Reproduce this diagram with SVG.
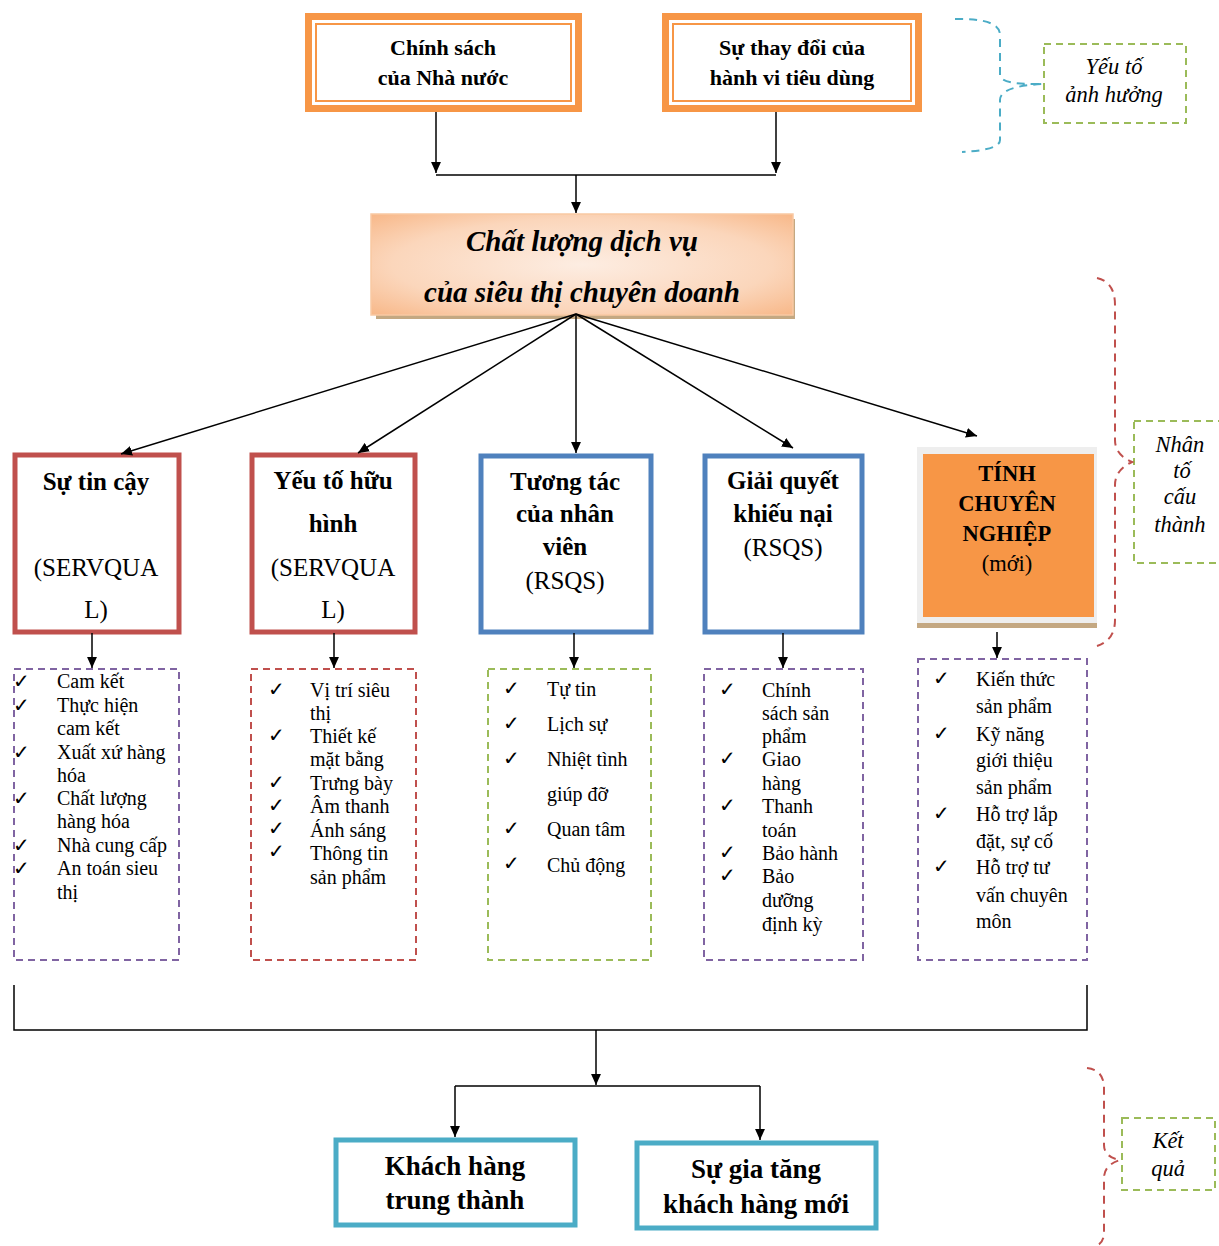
<svg xmlns="http://www.w3.org/2000/svg" width="1219" height="1246" viewBox="0 0 1219 1246">
<style>
.t{font-family:"Liberation Serif","Times New Roman",serif;fill:#000;text-anchor:middle}
.b{font-weight:bold}
.i{font-style:italic}
.l{font-family:"Liberation Serif","Times New Roman",serif;font-size:20px;fill:#000}
.ck{font-family:"DejaVu Sans",sans-serif;font-size:20px;font-weight:bold;fill:#000}
.ln{stroke:#000;stroke-width:1.5;fill:none}
.red{fill:#fff;stroke:#C0504D;stroke-width:5}
.blue{fill:#fff;stroke:#4F81BD;stroke-width:5}
.cyan{fill:#fff;stroke:#4BACC6;stroke-width:5}
.dp{fill:none;stroke:#8064A2;stroke-width:2;stroke-dasharray:7,5}
.dr{fill:none;stroke:#C0504D;stroke-width:2;stroke-dasharray:7,5}
.dg{fill:none;stroke:#9BBB59;stroke-width:2;stroke-dasharray:7,5}
</style>
<defs>
<marker id="ah" viewBox="0 0 10 10" refX="10" refY="5" markerWidth="11" markerHeight="11" markerUnits="userSpaceOnUse" orient="auto">
<path d="M0,0.5 L10,5 L0,9.5 z" fill="#000"/>
</marker>
<radialGradient id="pg" cx="0.5" cy="0.5" r="0.75">
<stop offset="0" stop-color="#FDEDE2"/>
<stop offset="0.6" stop-color="#FBD6BB"/>
<stop offset="1" stop-color="#F7B27F"/>
</radialGradient>
</defs>
<rect width="1219" height="1246" fill="#fff"/>

<g id="n-chinhsach">
<rect x="305" y="13" width="277" height="99" fill="#F79646"/>
<rect x="312" y="20" width="263" height="85" fill="#fff"/>
<rect x="316" y="24" width="255" height="77" fill="#fff" stroke="#F79646" stroke-width="2"/>
<text class="t b" x="443" y="55" font-size="22">Chính sách</text>
<text class="t b" x="443" y="85" font-size="22">của Nhà nước</text>
</g>
<g id="n-suthaydoi">
<rect x="662" y="13" width="260" height="99" fill="#F79646"/>
<rect x="669" y="20" width="246" height="85" fill="#fff"/>
<rect x="673" y="24" width="238" height="77" fill="#fff" stroke="#F79646" stroke-width="2"/>
<text class="t b" x="792" y="55" font-size="22">Sự thay đổi của</text>
<text class="t b" x="792" y="85" font-size="22">hành vi tiêu dùng</text>
</g>

<g id="n-chatluong">
<rect x="376" y="219" width="419" height="100" fill="#C4A882"/>
<rect x="371" y="214" width="422" height="101" fill="url(#pg)" stroke="#F9C9A3" stroke-width="1.5"/>
<text class="t b i" x="582" y="251" font-size="29">Chất lượng dịch vụ</text>
<text class="t b i" x="582" y="302" font-size="29">của siêu thị chuyên doanh</text>
</g>

<g id="n-sutincay">
<rect class="red" x="15" y="455" width="164" height="177"/>
<text class="t b" x="96" y="490" font-size="25">Sự tin cậy</text>
<text class="t" x="96" y="576" font-size="25">(SERVQUA</text>
<text class="t" x="96" y="618" font-size="25">L)</text>
</g>
<g id="n-yeutohuuhinh">
<rect class="red" x="252" y="455" width="163" height="177"/>
<text class="t b" x="333" y="489" font-size="25">Yếu tố hữu</text>
<text class="t b" x="333" y="532" font-size="25">hình</text>
<text class="t" x="333" y="576" font-size="25">(SERVQUA</text>
<text class="t" x="333" y="618" font-size="25">L)</text>
</g>
<g id="n-tuongtac">
<rect class="blue" x="481" y="456" width="170" height="176"/>
<text class="t b" x="565" y="490" font-size="25">Tương tác</text>
<text class="t b" x="565" y="522" font-size="25">của nhân</text>
<text class="t b" x="565" y="555" font-size="25">viên</text>
<text class="t" x="565" y="589" font-size="25">(RSQS)</text>
</g>
<g id="n-giaiquyet">
<rect class="blue" x="705" y="456" width="157" height="176"/>
<text class="t b" x="783" y="489" font-size="25">Giải quyết</text>
<text class="t b" x="783" y="522" font-size="25">khiếu nại</text>
<text class="t" x="783" y="556" font-size="25">(RSQS)</text>
</g>
<g id="n-tinhchuyennghiep">
<rect x="917" y="447" width="180" height="177" fill="#EEEEEE"/>
<rect x="917" y="623" width="180" height="5" fill="#C4A882"/>
<rect x="923" y="454" width="171" height="163" fill="#F79646"/>
<text class="t b" x="1007" y="481" font-size="22.5">TÍNH</text>
<text class="t b" x="1007" y="511" font-size="22.5">CHUYÊN</text>
<text class="t b" x="1007" y="541" font-size="22.5">NGHIỆP</text>
<text class="t" x="1007" y="571" font-size="22.5">(mới)</text>
</g>

<g id="n-list1">
<rect class="dp" x="14" y="669" width="165" height="291"/>
<text class="ck" x="13" y="688">✓</text><text class="l" x="57" y="688">Cam kết</text>
<text class="ck" x="13" y="712">✓</text><text class="l" x="57" y="712">Thực hiện</text>
<text class="l" x="57" y="735">cam kết</text>
<text class="ck" x="13" y="759">✓</text><text class="l" x="57" y="759">Xuất xứ hàng</text>
<text class="l" x="57" y="782">hóa</text>
<text class="ck" x="13" y="805">✓</text><text class="l" x="57" y="805">Chất lượng</text>
<text class="l" x="57" y="828">hàng hóa</text>
<text class="ck" x="13" y="852">✓</text><text class="l" x="57" y="852">Nhà cung cấp</text>
<text class="ck" x="13" y="875">✓</text><text class="l" x="57" y="875">An toán sieu</text>
<text class="l" x="57" y="899">thị</text>
</g>
<g id="n-list2">
<rect class="dr" x="251" y="669" width="165" height="291"/>
<text class="ck" x="268" y="696">✓</text><text class="l" x="310" y="697">Vị trí siêu</text>
<text class="l" x="310" y="720">thị</text>
<text class="ck" x="268" y="742">✓</text><text class="l" x="310" y="743">Thiết kế</text>
<text class="l" x="310" y="766">mặt bằng</text>
<text class="ck" x="268" y="789">✓</text><text class="l" x="310" y="790">Trưng bày</text>
<text class="ck" x="268" y="812">✓</text><text class="l" x="310" y="813">Âm thanh</text>
<text class="ck" x="268" y="835">✓</text><text class="l" x="310" y="837">Ánh sáng</text>
<text class="ck" x="268" y="858">✓</text><text class="l" x="310" y="860">Thông tin</text>
<text class="l" x="310" y="884">sản phẩm</text>
</g>
<g id="n-list3">
<rect class="dg" x="488" y="669" width="163" height="291"/>
<text class="ck" x="503" y="695">✓</text><text class="l" x="547" y="696">Tự tin</text>
<text class="ck" x="503" y="730">✓</text><text class="l" x="547" y="731">Lịch sự</text>
<text class="ck" x="503" y="765">✓</text><text class="l" x="547" y="766">Nhiệt tình</text>
<text class="l" x="547" y="801">giúp đỡ</text>
<text class="ck" x="503" y="835">✓</text><text class="l" x="547" y="836">Quan tâm</text>
<text class="ck" x="503" y="870">✓</text><text class="l" x="547" y="872">Chủ động</text>
</g>
<g id="n-list4">
<rect class="dp" x="704" y="669" width="159" height="291"/>
<text class="ck" x="719" y="696">✓</text><text class="l" x="762" y="697">Chính</text>
<text class="l" x="762" y="720">sách sản</text>
<text class="l" x="762" y="743">phẩm</text>
<text class="ck" x="719" y="765">✓</text><text class="l" x="762" y="766">Giao</text>
<text class="l" x="762" y="790">hàng</text>
<text class="ck" x="719" y="812">✓</text><text class="l" x="762" y="813">Thanh</text>
<text class="l" x="762" y="837">toán</text>
<text class="ck" x="719" y="859">✓</text><text class="l" x="762" y="860">Bảo hành</text>
<text class="ck" x="719" y="882">✓</text><text class="l" x="762" y="883">Bảo</text>
<text class="l" x="762" y="907">dưỡng</text>
<text class="l" x="762" y="931">định kỳ</text>
</g>
<g id="n-list5">
<rect class="dp" x="918" y="659" width="169" height="301"/>
<text class="ck" x="933" y="685">✓</text><text class="l" x="976" y="686">Kiến thức</text>
<text class="l" x="976" y="713">sản phẩm</text>
<text class="ck" x="933" y="740">✓</text><text class="l" x="976" y="741">Kỹ năng</text>
<text class="l" x="976" y="767">giới thiệu</text>
<text class="l" x="976" y="794">sản phẩm</text>
<text class="ck" x="933" y="820">✓</text><text class="l" x="976" y="821">Hỗ trợ lắp</text>
<text class="l" x="976" y="848">đặt, sự cố</text>
<text class="ck" x="933" y="873">✓</text><text class="l" x="976" y="874">Hỗ trợ tư</text>
<text class="l" x="976" y="902">vấn chuyên</text>
<text class="l" x="976" y="928">môn</text>
</g>

<g id="n-khachhang">
<rect class="cyan" x="336" y="1140" width="239" height="85"/>
<text class="t b" x="455" y="1175" font-size="27">Khách hàng</text>
<text class="t b" x="455" y="1209" font-size="27">trung thành</text>
</g>
<g id="n-sugiatang">
<rect class="cyan" x="637" y="1143" width="239" height="85"/>
<text class="t b" x="756" y="1178" font-size="27">Sự gia tăng</text>
<text class="t b" x="756" y="1213" font-size="27">khách hàng mới</text>
</g>

<g id="n-label-yeuto">
<rect x="1044" y="44" width="142" height="79" fill="none" stroke="#9BBB59" stroke-width="2" stroke-dasharray="7,5"/>
<text class="t i" x="1114" y="74" font-size="22.5">Yếu tố</text>
<text class="t i" x="1114" y="102" font-size="22.5">ảnh hưởng</text>
<path d="M955,19 Q1000,18 1000,35 L1000,75 Q1000,85 1043,84 Q1000,86 1000,100 L1000,140 Q1000,150 962,152" fill="none" stroke="#4BACC6" stroke-width="2" stroke-dasharray="8,6"/>
</g>
<g id="n-label-nhanto">
<rect x="1134" y="421" width="90" height="142" fill="none" stroke="#9BBB59" stroke-width="2" stroke-dasharray="7,5"/>
<text class="t i" x="1180" y="452" font-size="22.5">Nhân</text>
<text class="t i" x="1182" y="478" font-size="22.5">tố</text>
<text class="t i" x="1180" y="504" font-size="22.5">cấu</text>
<text class="t i" x="1180" y="532" font-size="22.5">thành</text>
<path d="M1097,278 Q1115,282 1115,305 L1115,440 Q1115,455 1132,462 Q1115,470 1115,485 L1115,620 Q1115,640 1097,646" fill="none" stroke="#C0504D" stroke-width="2" stroke-dasharray="8,6"/>
</g>
<g id="n-label-ketqua">
<rect x="1122" y="1118" width="93" height="72" fill="none" stroke="#9BBB59" stroke-width="2" stroke-dasharray="7,5"/>
<text class="t i" x="1168" y="1148" font-size="22.5">Kết</text>
<text class="t i" x="1168" y="1176" font-size="22.5">quả</text>
<path d="M1087,1068 Q1104,1070 1104,1088 L1104,1145 Q1104,1157 1120,1160 Q1104,1165 1104,1178 L1104,1232 Q1104,1244 1095,1246" fill="none" stroke="#C0504D" stroke-width="2" stroke-dasharray="8,6"/>
</g>

<g id="connectors">
<path class="ln" d="M436,112 L436,173" marker-end="url(#ah)"/>
<path class="ln" d="M776,112 L776,173" marker-end="url(#ah)"/>
<path class="ln" d="M436,175 L776,175"/>
<path class="ln" d="M576,175 L576,213" marker-end="url(#ah)"/>
<path class="ln" d="M576,314 L121,454" marker-end="url(#ah)"/>
<path class="ln" d="M576,314 L358,453" marker-end="url(#ah)"/>
<path class="ln" d="M576,314 L576,453" marker-end="url(#ah)"/>
<path class="ln" d="M576,314 L793,448" marker-end="url(#ah)"/>
<path class="ln" d="M576,314 L977,436" marker-end="url(#ah)"/>
<path class="ln" d="M92,633 L92,668" marker-end="url(#ah)"/>
<path class="ln" d="M334,633 L334,668" marker-end="url(#ah)"/>
<path class="ln" d="M574,633 L574,668" marker-end="url(#ah)"/>
<path class="ln" d="M783,633 L783,668" marker-end="url(#ah)"/>
<path class="ln" d="M997,632 L997,658" marker-end="url(#ah)"/>
<path class="ln" d="M14,985 L14,1030 L1087,1030 L1087,985"/>
<path class="ln" d="M596,1030 L596,1085" marker-end="url(#ah)"/>
<path class="ln" d="M760,1086 L455,1086"/>
<path class="ln" d="M760,1086 L760,1140" marker-end="url(#ah)"/>
<path class="ln" d="M455,1086 L455,1137" marker-end="url(#ah)"/>
</g>
</svg>
